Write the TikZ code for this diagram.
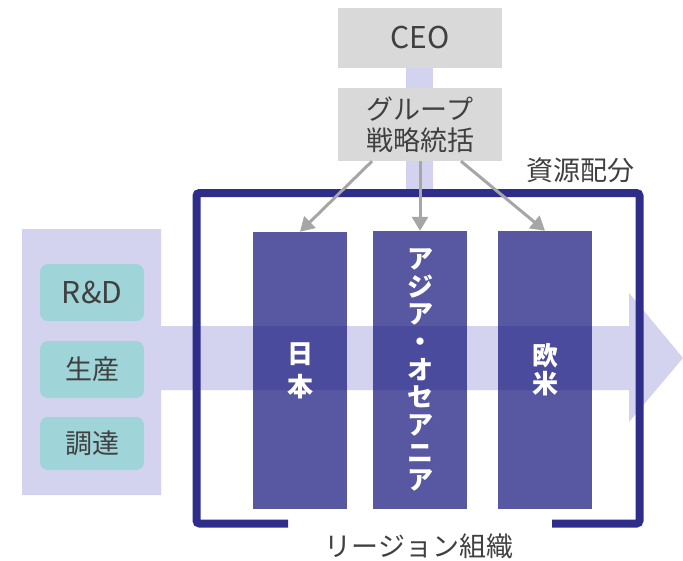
\documentclass[tikz,border=0pt]{standalone}
\usepackage{fontspec}
\setmainfont{Noto Sans CJK JP}
\usetikzlibrary{arrows.meta,positioning}
\definecolor{lav}{HTML}{D3D3F0}
\definecolor{navy}{HTML}{2E2E8A}
\definecolor{colfill}{HTML}{191980}
\definecolor{boxgray}{HTML}{D9D9D9}
\definecolor{teal}{HTML}{9FD4D8}
\definecolor{txt}{HTML}{404040}
\definecolor{arrgray}{HTML}{A6A6A6}
\tikzset{
  graybox/.style={fill=boxgray,inner sep=0pt,text=txt,font=\fontsize{27}{31}\selectfont,align=center},
  tealbox/.style={fill=teal,rounded corners=8pt,inner sep=0pt,minimum width=104pt,text=txt,font=\fontsize{27}{31}\selectfont},
  region/.style={fill=colfill,fill opacity=0.73,text opacity=1,inner sep=0pt,minimum width=94pt,text=white,font=\bfseries\fontsize{26}{28}\selectfont,align=center},
  link/.style={draw=arrgray,line width=3pt,-{Triangle[length=14pt,width=16pt]}},
  lbl/.style={text=txt,font=\fontsize{27}{31}\selectfont,inner sep=0pt},
  latin/.style={font=\fontsize{30}{34}\selectfont}
}
\begin{document}
\begin{tikzpicture}[x=1pt,y=-1pt]
\useasboundingbox (0,0) rectangle (683,560);
% lavender flow: panel + band + head
\fill[lav] (22,229) -- (161,229) -- (161,326) -- (629,326) -- (629,293) -- (683,358) -- (629,422) -- (629,390) -- (161,390) -- (161,495) -- (22,495) -- cycle;
% vertical lavender bar
\fill[lav] (406,68) rectangle (433,193);
% boxes
\node[graybox,latin,minimum width=164pt,minimum height=60pt] (ceo) at (420,38) {CEO};
\node[graybox,minimum width=164pt,minimum height=73pt] (grp) at (420,124.5) {グループ\\戦略統括};
% left function boxes
\node[tealbox,latin,minimum height=57pt] (rd) at (92,292.5) {R\&D};
\node[tealbox,minimum height=57pt] (prod) at (92,369.5) {生産};
\node[tealbox,minimum height=53pt] (proc) at (92,443.5) {調達};
% region columns
\node[region,minimum height=277pt] (jp) at (300,370.5) {日\\[5pt]本};
\node[region,minimum height=278pt,font=\bfseries\fontsize{26}{27.7}\selectfont] (asia) at (420,370) {ア\\ジ\\ア\\・\\オ\\セ\\ア\\ニ\\ア};
\node[region,minimum height=278pt] (eu) at (545,370) {欧\\米};
% frame
\draw[navy,line width=8pt,rounded corners=3pt] (288,523.5) -- (196.5,523.5) -- (196.5,193) -- (639.5,193) -- (639.5,523.5) -- (552,523.5);
% arrows
\draw[link] ([xshift=-48pt]grp.south) -- (jp.north);
\draw[link] (grp.south) -- (asia.north);
\draw[link] ([xshift=41pt]grp.south) -- (eu.north);
% labels
\node[lbl] (alloc) at (580,170) {資源配分};
\node[lbl] (regorg) at (419,546) {リージョン組織};
\end{tikzpicture}
\end{document}
